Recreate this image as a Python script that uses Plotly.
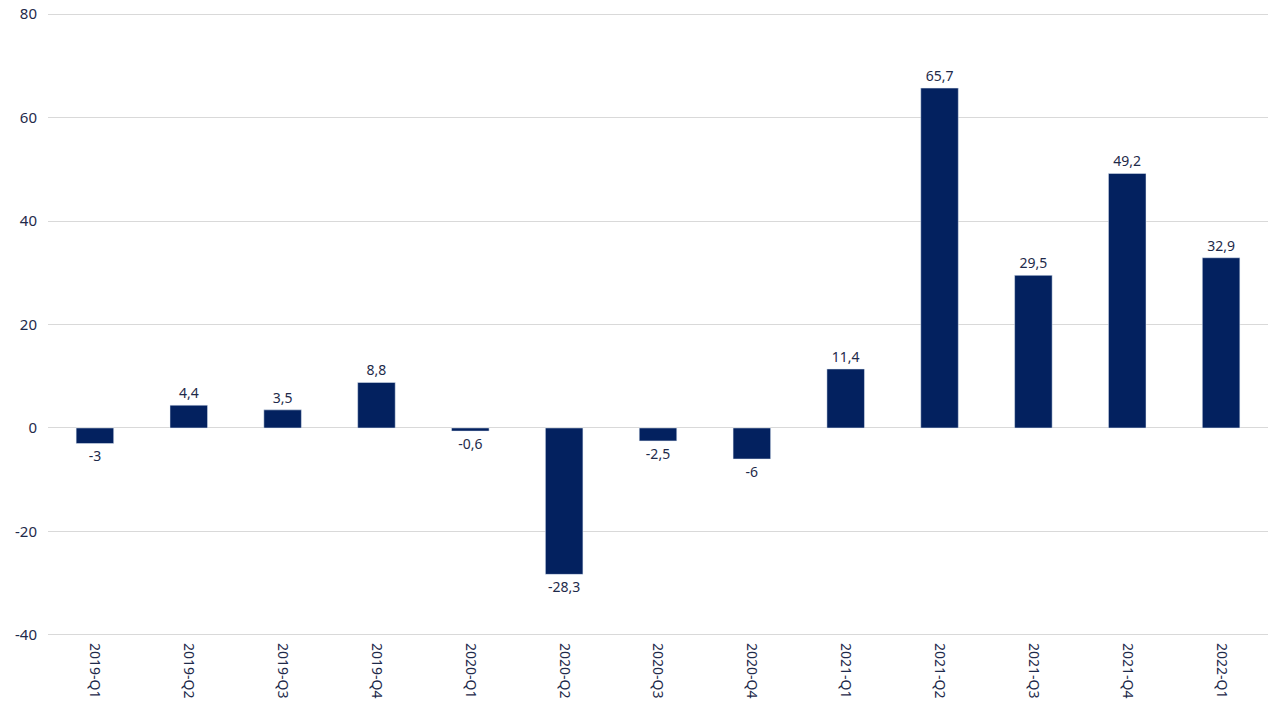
import plotly.graph_objects as go

quarters = ["2019-Q1", "2019-Q2", "2019-Q3", "2019-Q4", "2020-Q1", "2020-Q2",
            "2020-Q3", "2020-Q4", "2021-Q1", "2021-Q2", "2021-Q3", "2021-Q4",
            "2022-Q1"]
values = [-3, 4.4, 3.5, 8.8, -0.6, -28.3, -2.5, -6, 11.4, 65.7, 29.5, 49.2, 32.9]
y_ticks = [-40, -20, 0, 20, 40, 60, 80]

# comma as decimal mark, like the source
labels = [str(v).replace(".", ",") for v in values]
y_ticktext = [str(t) for t in y_ticks]  # plain hyphen, not the unicode minus

BAR = "#03215f"
TXT = "#1e2a4a"
FONT = "Noto Sans, Open Sans, sans-serif"

fig = go.Figure(
    go.Bar(
        x=quarters,
        y=values,
        marker_color=BAR,
        width=0.4,
        text=labels,
        textposition="outside",
        textfont=dict(size=14, color=TXT, family=FONT),
        cliponaxis=False,
    )
)

# page body adds an 8px offset, margins account for it
fig.update_layout(
    width=1280,
    height=720,
    margin=dict(l=40, r=20, t=3, b=90, autoexpand=False),
    paper_bgcolor="white",
    plot_bgcolor="white",
    showlegend=False,
    font=dict(family=FONT, color=TXT, size=14),
)
fig.update_xaxes(
    tickangle=90,
    showgrid=False,
    showline=False,
    ticks="",
    automargin=False,
    ticklabelstandoff=4,
    tickfont=dict(size=14, color=TXT),
)
fig.update_yaxes(
    range=[-40.6, 80.6],  # pad so the edge gridlines get drawn
    tickvals=y_ticks,
    ticktext=y_ticktext,
    showgrid=True,
    gridcolor="#d9d9d9",
    gridwidth=1,
    zeroline=True,
    zerolinecolor="#d9d9d9",
    zerolinewidth=1,
    ticks="",
    automargin=False,
    ticklabeloverflow="allow",  # keep the "80" label at the very top
    ticklabelstandoff=10,
    tickfont=dict(size=15, color=TXT),
)

fig.write_html("out.html")
